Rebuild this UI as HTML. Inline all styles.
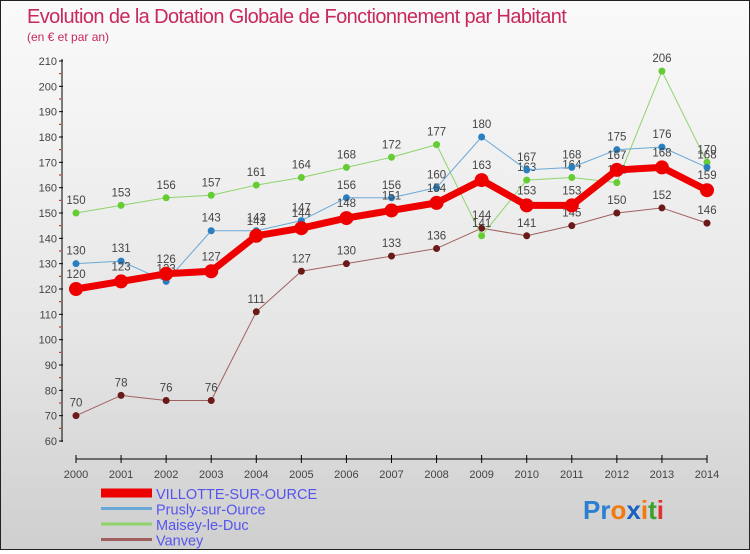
<!DOCTYPE html>
<html><head><meta charset="utf-8"><style>
html,body{margin:0;padding:0}
body{width:750px;height:550px;overflow:hidden;font-family:"Liberation Sans",sans-serif}
#wrap{position:relative;width:748px;height:548px;border:1px solid #222;background:linear-gradient(#fafafa,#e6e6e6 60%,#cfcfcf)}
</style></head><body>
<div id="wrap">
<svg id="chart" width="748" height="548">
<text x="26" y="22" font-size="20" fill="#c8285a" style="letter-spacing:-0.6px">Evolution de la Dotation Globale de Fonctionnement par Habitant</text>
<text x="26" y="40" font-size="12" fill="#c8285a">(en € et par an)</text>
<g id="axes"></g>
<g id="series"></g>
<g id="legend"></g>
<text x="582" y="518" font-size="26" font-weight="bold"><tspan fill="#2a7fd0">Pr</tspan><tspan fill="#f07a10">o</tspan><tspan fill="#1a60c0">x</tspan><tspan fill="#f07a10">i</tspan><tspan fill="#3aa030">t</tspan><tspan fill="#e03030">i</tspan></text>
</svg>
</div>
<script>
const years=[2000,2001,2002,2003,2004,2005,2006,2007,2008,2009,2010,2011,2012,2013,2014];
const villotte=[120,123,126,127,141,144,148,151,154,163,153,153,167,168,159];
const prusly=[130,131,123,143,143,147,156,156,160,180,167,168,175,176,168];
const maisey=[150,153,156,157,161,164,168,172,177,141,163,164,162,206,170];
const vanvey=[70,78,76,76,111,127,130,133,136,144,141,145,150,152,146];
const yTicks=[60,70,80,90,100,110,120,130,140,150,160,170,180,190,200,210];
const NS="http://www.w3.org/2000/svg";
function x(i){return 75+i*(706-75)/(years.length-1);}
function y(v){return 440-(v-60)*(380/150);}
function mk(t,a,p){const e=document.createElementNS(NS,t);for(const k in a)e.setAttribute(k,a[k]);p.appendChild(e);return e;}
const ax=document.getElementById('axes');
let l=mk('line',{x1:61,y1:58,x2:61,y2:441,stroke:'#000','stroke-width':1},ax);


yTicks.forEach(v=>{
  mk('line',{x1:58,x2:62,y1:y(v),y2:y(v),stroke:'#000'},ax);
  if(v<210) mk('line',{x1:58,x2:60,y1:y(v+5),y2:y(v+5),stroke:'#e00'},ax);
  const t=mk('text',{x:56,y:y(v)+4,'font-size':11,'text-anchor':'end',fill:'#444'},ax);
  t.textContent=v;
  
  
});
l=mk('line',{x1:75,y1:458,x2:706,y2:458,stroke:'#000'},ax);


years.forEach((yr,i)=>{
  mk('line',{x1:x(i),x2:x(i),y1:454,y2:462,stroke:'#000'},ax);
  const t=mk('text',{x:x(i),y:477,'font-size':11,'text-anchor':'middle',fill:'#444'},ax);
  t.textContent=yr;
  
  
});
const S=[
 {n:'Vanvey',d:vanvey,c:'#6b1a1a',lc:'#a06060',w:1,r:3.5},
 {n:'Maisey-le-Duc',d:maisey,c:'#66cc33',lc:'#8ed46a',w:1,r:3.5},
 {n:'Prusly-sur-Ource',d:prusly,c:'#2a7fc0',lc:'#6aa8d8',w:1,r:3.5},
 {n:'VILLOTTE-SUR-OURCE',d:villotte,c:'#ee0000',lc:'#ee0000',w:7,r:7}
];
const sg=document.getElementById('series');
S.forEach(s=>{
  const g=mk('g',{},sg);
  
  
  const p=mk('polyline',{points:s.d.map((v,i)=>x(i)+','+y(v)).join(' '),fill:'none',stroke:s.lc,'stroke-width':s.w,'stroke-linejoin':'round'},g);
  
  
  s.d.forEach((v,i)=>{
    const c=mk('circle',{cx:x(i),cy:y(v),r:s.r,fill:s.c},g);
    
    
    const t=mk('text',{x:x(i),y:y(v)-(s.w>1?11:9),'font-size':11.5,'text-anchor':'middle',fill:'#444'},g);
    t.textContent=v;
    
    
  });
});
const lg=document.getElementById('legend');
[...S].reverse().forEach((s,i)=>{
  const yy=492+i*15.5;
  const g=mk('g',{},lg);
  
  
  mk('line',{x1:100,x2:151,y1:yy,y2:yy,stroke:s.lc,'stroke-width':s.w>1?9:3},g);
  const t=mk('text',{x:155,y:yy+6,'font-size':14.5,fill:'#5555ee'},g);
  t.textContent=s.n;
  
  
});
</script>
</body></html>
